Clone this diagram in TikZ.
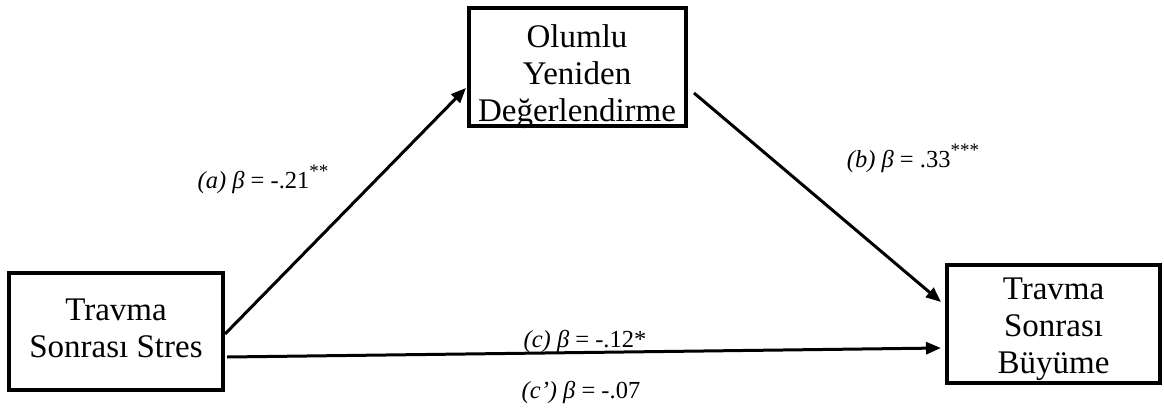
\documentclass[tikz,border=0pt]{standalone}
\usepackage{fontspec}
\setmainfont{Liberation Serif}
\usetikzlibrary{arrows.meta}
\newcommand{\stars}[1]{\raisebox{0.42em}{\fontsize{19}{19}\selectfont #1}}
\begin{document}
\begin{tikzpicture}[x=1pt,y=-1pt,
  box/.style={draw, line width=4pt, inner sep=0pt},
  boxtext/.style={anchor=base, inner sep=0pt, align=center, font=\fontsize{33}{37}\selectfont},
  conn/.style={line width=3pt, -{Triangle[length=15pt,width=12pt]}},
  lbl/.style={anchor=base, inner sep=0pt, font=\fontsize{24.5}{28}\selectfont}]
\useasboundingbox (0,0) rectangle (1164,410);
\node[box, minimum width=214pt, minimum height=117pt] (L) at (116,331.5) {};
\node[box, minimum width=217pt, minimum height=118pt] (T) at (577.5,67) {};
\node[box, minimum width=213pt, minimum height=118pt] (R) at (1053.5,324) {};
\node[boxtext] (Lt) at (116,357) {Travma\\Sonrası Stres};
\node[boxtext] (Tt) at (577,121.5) {Olumlu\\Yeniden\\Değerlendirme};
\node[boxtext] (Rt) at (1053.5,373) {Travma\\Sonrası\\Büyüme};
\draw[conn] ([yshift=-2.5pt]L.east) -- ([yshift=-21pt,xshift=-1pt]T.west);
\draw[conn] ([yshift=-26pt,xshift=6pt]T.east) -- ([yshift=22pt,xshift=-4pt]R.west);
\draw[conn] ([yshift=-25.5pt,xshift=2pt]L.east) -- ([yshift=-24pt,xshift=-4pt]R.west);
\node[lbl] (la) at (263,188) {\textit{(a) β} = -.21\stars{**}};
\node[lbl] (lb) at (913,167) {\textit{(b) β} = .33\stars{***}};
\node[lbl] (lc) at (585,347) {\textit{(c) β} = -.12*};
\node[lbl] (lcp) at (581,398) {\textit{(c’) β} = -.07};
\end{tikzpicture}
\end{document}
